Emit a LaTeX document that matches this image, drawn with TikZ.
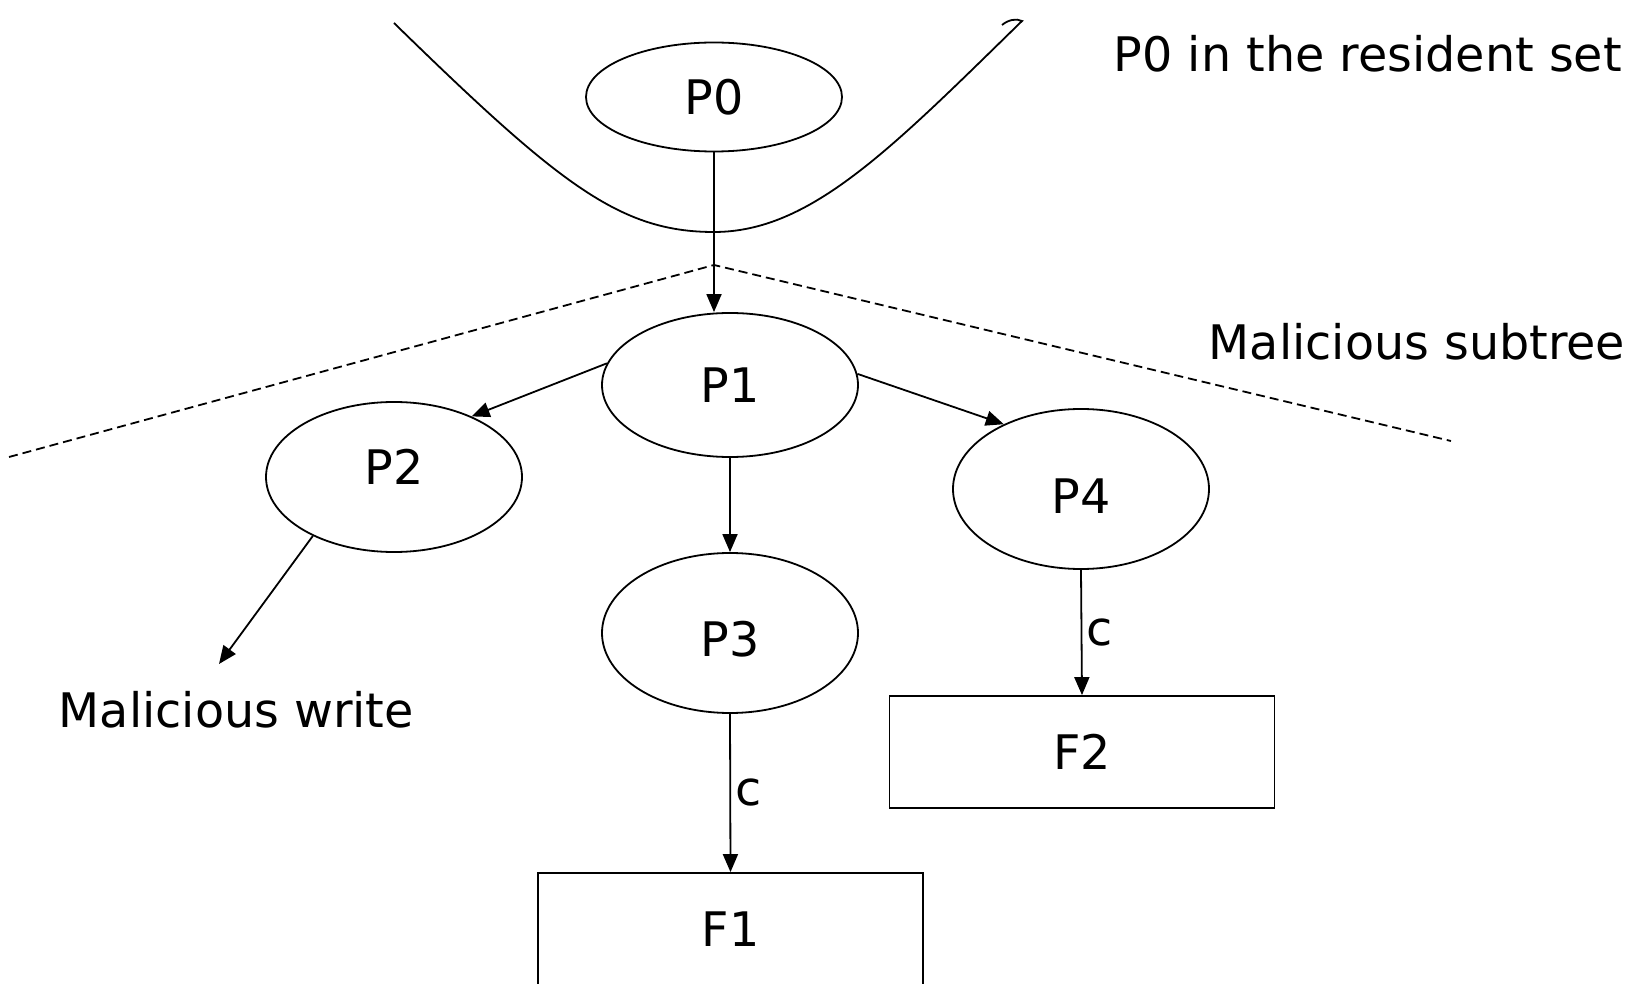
\documentclass[tikz,border=0pt]{standalone}
\usepackage{fontspec}
\setmainfont{DejaVu Sans}
\usetikzlibrary{shapes.geometric,arrows.meta}

\tikzset{
  proc/.style={draw, ellipse, inner sep=0pt, minimum width=128pt},
  filebox/.style={draw, rectangle, inner sep=0pt, minimum width=192.5pt, minimum height=56pt},
  freetext/.style={inner sep=0pt, anchor=base west},
  link/.style={-{Triangle[length=9pt,width=7.5pt]}},
  border/.style={dash pattern=on 4.5pt off 2.5pt},
  elabel/.style={right, inner sep=2pt}
}

\begin{document}
\begin{tikzpicture}[x=0.5pt, y=-0.5pt, line width=0.9pt,
  every node/.style={font=\fontsize{23.8pt}{28pt}\selectfont}]
  \useasboundingbox (0,0) rectangle (1646,984);
  \clip (0,0) rectangle (1646,984);

  % resident set boundary
  \draw (394,23) .. controls (560,185) and (620,232) .. (714,232)
        .. controls (810,232) and (890,150) .. (1022,21)
        .. controls (1016,18) and (1008,20) .. (1002,25);

  % malicious subtree boundary
  \coordinate (apex) at (714,265);
  \coordinate (leftend) at (9,457);
  \coordinate (rightend) at (1451,441);
  \draw[border] (leftend) -- (apex) -- (rightend);

  % processes
  \node[proc, minimum height=54.5pt] (P0) at (714,97) {P0};
  \node[proc, minimum height=72pt] (P1) at (730,385) {P1};
  \node[proc, minimum height=75pt, text depth=10pt] (P2) at (394,477) {P2};
  \node[proc, minimum height=80pt, text height=24pt] (P3) at (730,633) {P3};
  \node[proc, minimum height=80pt, text height=25pt] (P4) at (1081,489) {P4};

  % files
  \node[filebox] (F2) at (1082,752) {F2};
  \node[filebox] (F1) at (730.5,929) {F1};

  % side texts
  \node[freetext] (rs) at (1113,72) {P0 in the resident set};
  \node[freetext] (ms) at (1208,360) {Malicious subtree};
  \node[freetext] (mw) at (58,727) {Malicious write};
  \coordinate (mwtip) at (219,664);

  % connectors
  \draw[link] (P0.south) -- (P0.south |- P1.north);
  \draw[link] (P1.170) -- (P2.38);
  \draw[link] (P1.5) -- (P4.140);
  \draw[link] (P1.south) -- (P3.north);
  \draw[link] (P2.216) -- (mwtip);
  \draw[link] (P3.south) -- node[elabel] {c} (F1.north);
  \draw[link] (P4.south) -- node[elabel] {c} (F2.north);
\end{tikzpicture}
\end{document}
